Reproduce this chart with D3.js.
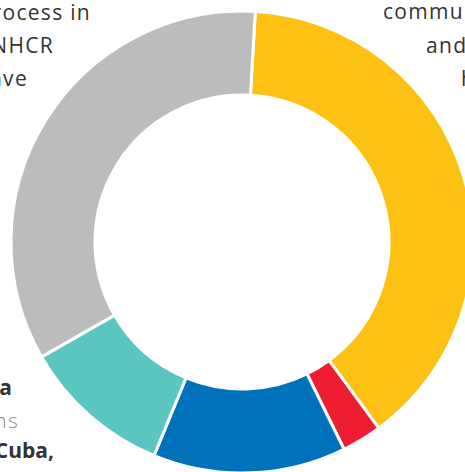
<!DOCTYPE html>
<html>
<head>
<meta charset="utf-8">
<script src="https://cdnjs.cloudflare.com/ajax/libs/d3/7.8.5/d3.min.js"></script>
<style>
  body { margin: 0; background: #fff; overflow: hidden; }
  svg { display: block; }
  .lbl { font-family: "Open Sans", sans-serif; font-size: 21px; fill: #333; letter-spacing: 1.3px; }
  .lbl.bold { font-weight: 700; letter-spacing: 0; }
  .lbl.light { fill: #8a8a8a; font-weight: 300; }
</style>
</head>
<body>
<script>
// slices, clockwise from the top
var categories = ["Host communities", "Other", "Americas", "Latin America", "Resettlement"];
var values = [39, 2.8, 13.5, 10.5, 34.2];
var colors = ["#fcc112", "#ee1d2f", "#0071bb", "#5bc6bf", "#bcbcbc"];

// text fragments around the chart (they run off the page edges)
var leftLines = ["resettlement process in", "UNHCR", "have"];
var rightLines = ["communities", "and their", "host"];
var bottomLines = [
  {t: "Latin America", c: "bold"},
  {t: "persons", c: "light"},
  {t: "Cuba,", c: "bold"}
];

var w = 465, h = 472;
var cx = 242, cy = 242;
var outer = 231, inner = 147;

var data = categories.map(function(d, i) {
  return {key: d, value: values[i], color: colors[i]};
});

var svg = d3.select("body").append("svg")
    .attr("width", w)
    .attr("height", h);

var start = 3.3 * Math.PI / 180;
var pie = d3.pie()
    .sort(null)
    .value(function(d) { return d.value; })
    .startAngle(start)
    .endAngle(start + 2 * Math.PI);

var arc = d3.arc()
    .innerRadius(inner)
    .outerRadius(outer);

svg.append("g")
    .attr("transform", "translate(" + cx + "," + cy + ")")
  .selectAll("path")
    .data(pie(data))
    .enter()
    .append("path")
    .attr("d", arc)
    .attr("fill", function(d) { return d.data.color; })
    .attr("stroke", "#fff")
    .attr("stroke-width", 3);

// top-left block, right edges at these x
var leftX = [91, 54, 28];
svg.selectAll(".ll")
    .data(leftLines)
    .enter()
    .append("text")
    .attr("class", "lbl")
    .attr("text-anchor", "end")
    .attr("x", function(d, i) { return leftX[i]; })
    .attr("y", function(d, i) { return 20 + i * 33; })
    .text(function(d) { return d; });

var rightX = [383, 426, 461];
svg.selectAll(".rl")
    .data(rightLines)
    .enter()
    .append("text")
    .attr("class", "lbl")
    .attr("x", function(d, i) { return rightX[i]; })
    .attr("y", function(d, i) { return 19 + i * 33.5; })
    .text(function(d) { return d; });

var bottomX = [12, 19, 54];
var bottomY = [395, 428, 458];
svg.selectAll(".bl")
    .data(bottomLines)
    .enter()
    .append("text")
    .attr("class", function(d) { return "lbl " + d.c; })
    .attr("text-anchor", "end")
    .attr("x", function(d, i) { return bottomX[i]; })
    .attr("y", function(d, i) { return bottomY[i]; })
    .text(function(d) { return d.t; });
</script>
</body>
</html>
